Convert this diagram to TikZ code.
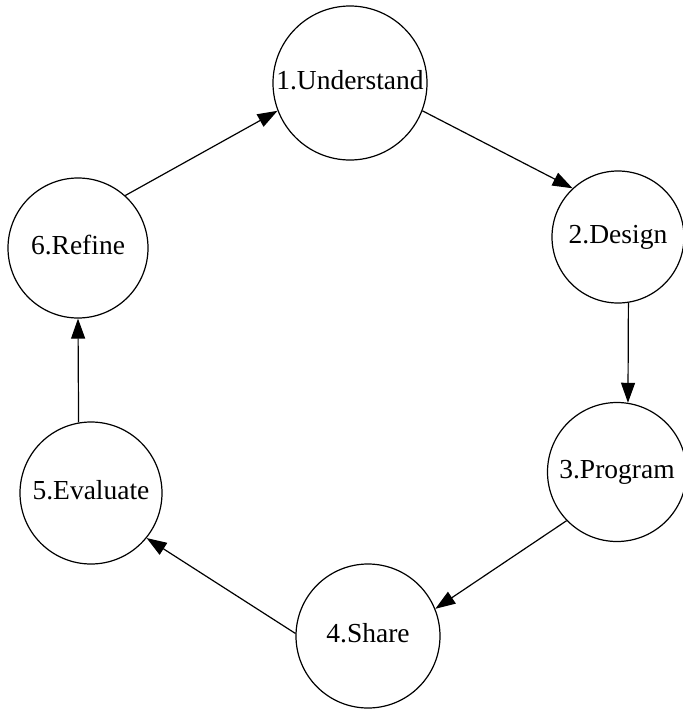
\documentclass[tikz,border=0pt]{standalone}
\usepackage{fontspec}
\setmainfont{Liberation Serif}
\usetikzlibrary{arrows.meta}

\begin{document}
\begin{tikzpicture}[x=1pt, y=-1pt, line width=1.2pt,
  stage/.style={draw=black, circle, inner sep=0pt, text height=19pt, text depth=7pt,
    font=\fontsize{27.5}{33}\selectfont},
  flow/.style={-{Triangle[length=20pt, width=14pt]}}]
\useasboundingbox (0,0) rectangle (683,710);

%\draw[step=50pt,gray,very thin] (0,0) grid (683,710);

\node[stage, minimum size=154pt] (understand) at (350,83)  {1.Understand};
\node[stage, minimum size=132pt] (design)     at (618,237) {2.Design};
\node[stage, minimum size=139pt] (program)    at (617,472) {3.Program};
\node[stage, minimum size=144pt] (share)      at (368,636) {4.Share};
\node[stage, minimum size=142pt] (evaluate)   at (91,493)  {5.Evaluate};
\node[stage, minimum size=140pt] (refine)     at (78,248)  {6.Refine};

\draw[flow] (understand.-21) -- (design.133);
\draw[flow] (design.-81) -- (program.81);
\draw[flow] (program.-136) -- (share.22);
\draw[flow] (share.178) -- (evaluate.-39);
\draw[flow] (evaluate.100) -- (refine.-90);
\draw[flow] (refine.48) -- (understand.-159);

\end{tikzpicture}
\end{document}
